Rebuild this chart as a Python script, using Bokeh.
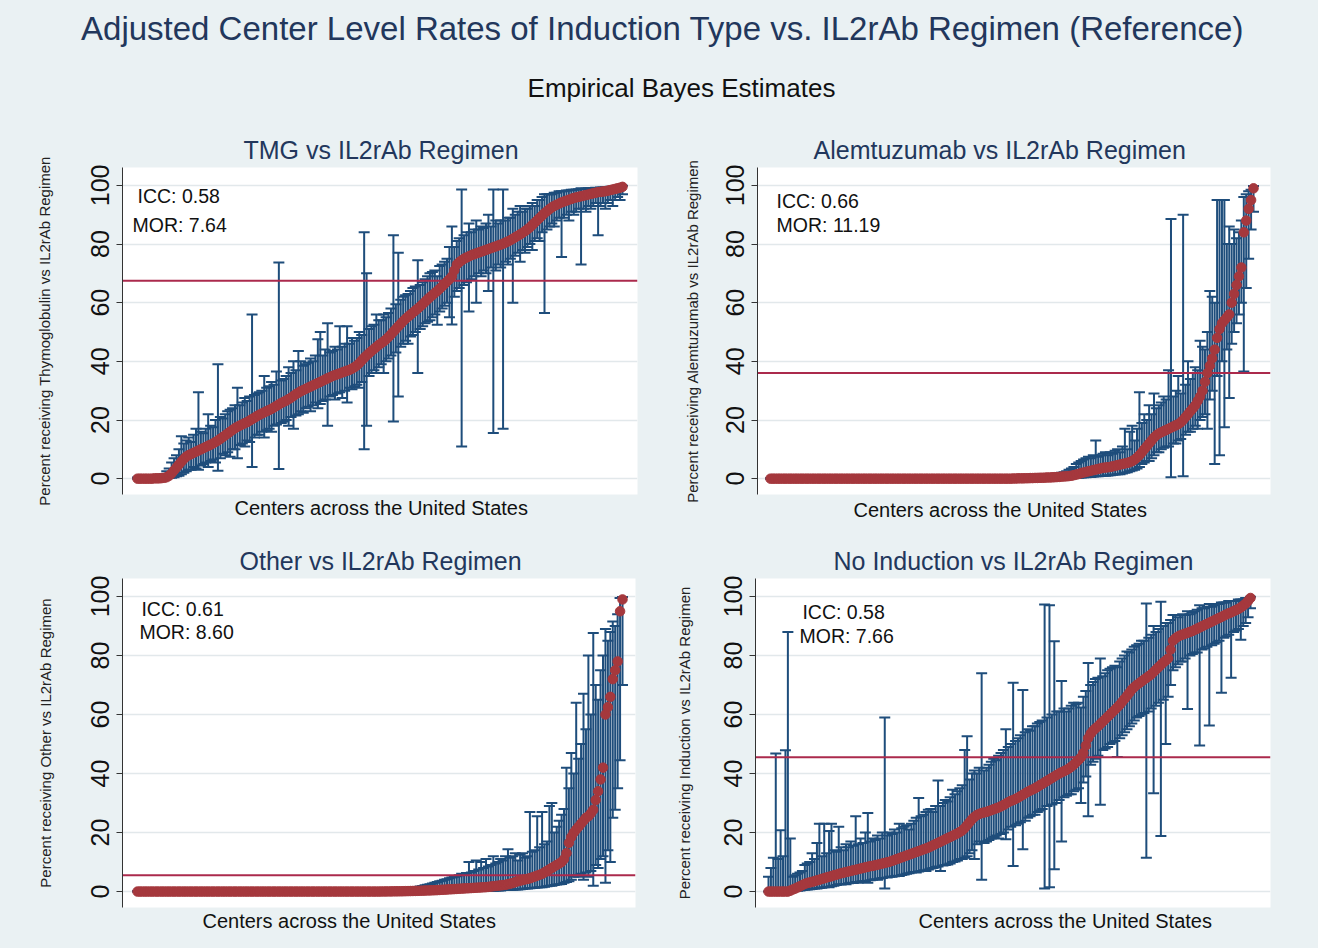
from bokeh.plotting import figure
from bokeh.models import (Whisker, TeeHead, Span, Label, Title, ColumnDataSource,
                          FixedTicker, Range1d)
from bokeh.layouts import column, row
from bokeh.embed import file_html
from bokeh.resources import INLINE

# ---------------- data ----------------
main_title = "Adjusted Center Level Rates of Induction Type vs. IL2rAb Regimen (Reference)"
sub_title = "Empirical Bayes Estimates"
x_title = "Centers across the United States"
tick_vals = [0, 20, 40, 60, 80, 100]

tmg_title = "TMG vs IL2rAb Regimen"
tmg_ylabel = "Percent receiving Thymoglobulin vs IL2rAb Regimen"
tmg_ref = 67.5
tmg_icc = "ICC: 0.58"
tmg_mor = "MOR: 7.64"
tmg_est = [
    0.0, 0.0, 0.0, 0.0, 0.0, 0.0, 0.0, 0.1, 0.1, 0.1,
    0.2, 0.3, 0.5, 1.0, 1.8, 2.8, 3.8, 4.8, 5.8, 6.7,
    7.5, 8.0, 8.4, 8.8, 9.2, 9.6, 10.0, 10.4, 10.8, 11.2,
    11.6, 12.0, 12.5, 13.0, 13.6, 14.2, 14.8, 15.4, 16.0, 16.6,
    17.2, 17.7, 18.1, 18.5, 18.9, 19.3, 19.8, 20.3, 20.8, 21.3,
    21.8, 22.2, 22.6, 23.0, 23.4, 23.8, 24.3, 24.8, 25.3, 25.8,
    26.2, 26.6, 27.1, 27.6, 28.2, 28.8, 29.3, 29.8, 30.2, 30.6,
    31.0, 31.4, 31.8, 32.2, 32.6, 33.0, 33.4, 33.8, 34.2, 34.6,
    35.0, 35.3, 35.6, 35.9, 36.2, 36.5, 36.8, 37.1, 37.5, 38.0,
    38.6, 39.4, 40.3, 41.2, 42.0, 42.8, 43.5, 44.2, 44.9, 45.6,
    46.2, 46.8, 47.5, 48.3, 49.2, 50.1, 51.0, 51.9, 52.8, 53.7,
    54.5, 55.2, 55.9, 56.6, 57.3, 58.0, 58.7, 59.5, 60.3, 61.1,
    61.9, 62.6, 63.3, 64.0, 64.8, 65.6, 66.4, 67.2, 68.0, 69.0,
    71.0, 73.0, 73.8, 74.4, 75.0, 75.4, 75.8, 76.2, 76.5, 76.8,
    77.1, 77.4, 77.7, 78.0, 78.3, 78.6, 78.9, 79.2, 79.5, 79.8,
    80.1, 80.5, 80.9, 81.3, 81.8, 82.3, 82.8, 83.3, 83.8, 84.4,
    85.0, 85.7, 86.5, 87.3, 88.1, 88.9, 89.7, 90.5, 91.2, 91.9,
    92.5, 93.0, 93.4, 93.8, 94.2, 94.5, 94.8, 95.1, 95.4, 95.7,
    95.9, 96.1, 96.3, 96.5, 96.7, 96.9, 97.1, 97.3, 97.5, 97.7,
    97.8, 97.9, 98.0, 98.2, 98.4, 98.6, 98.8, 99.0, 99.2, 99.5]
tmg_lo = [
    0.0, 0.0, 0.0, 0.0, 0.0, 0.0, 0.0, 0.0, 0.0, 0.0,
    0.0, 0.0, 0.1, 0.2, 0.3, 0.5, 0.8, 1.0, 1.5, 2.0,
    2.5, 3.0, 3.0, 4.0, 3.5, 3.0, 4.5, 5.0, 5.5, 4.0,
    6.0, 6.5, 5.5, 2.7, 7.0, 8.5, 8.0, 9.0, 7.5, 10.0,
    10.0, 7.0, 11.5, 12.0, 11.0, 13.0, 12.5, 4.0, 14.0, 15.0,
    15.0, 16.0, 14.0, 16.5, 17.0, 16.0, 18.0, 18.5, 3.3, 19.0,
    19.5, 20.0, 18.0, 21.0, 17.0, 21.5, 22.0, 23.0, 22.5, 24.0,
    24.5, 23.0, 25.0, 26.0, 24.0, 25.5, 26.5, 27.0, 18.0, 28.0,
    28.5, 27.0, 29.0, 29.5, 27.5, 30.0, 26.0, 31.0, 30.5, 31.5,
    32.0, 31.0, 33.0, 10.0, 18.0, 35.0, 36.0, 37.0, 36.0, 38.0,
    39.0, 36.0, 40.0, 41.0, 42.0, 19.5, 43.0, 28.0, 45.0, 46.0,
    47.0, 46.0, 48.5, 49.0, 50.0, 36.0, 51.0, 52.0, 53.0, 53.5,
    54.0, 55.0, 56.0, 52.5, 57.0, 58.0, 59.0, 60.0, 55.0, 52.6,
    62.0, 64.0, 65.0, 11.0, 66.0, 67.0, 57.0, 68.0, 69.0, 60.0,
    70.0, 69.0, 71.0, 70.0, 64.0, 72.0, 15.6, 71.0, 73.0, 72.0,
    17.0, 74.0, 73.0, 75.0, 60.0, 76.0, 77.0, 74.0, 78.0, 77.0,
    79.0, 80.0, 78.0, 81.0, 82.0, 81.0, 84.0, 56.5, 85.0, 86.0,
    87.0, 86.0, 88.0, 89.0, 75.6, 89.0, 90.0, 88.0, 91.0, 90.0,
    91.0, 92.0, 73.0, 92.0, 91.0, 93.0, 92.0, 93.0, 94.0, 83.0,
    93.0, 94.0, 92.0, 94.0, 95.0, 93.0, 95.0, 96.0, 95.0, 97.0]
tmg_hi = [
    0.4, 0.4, 0.5, 0.5, 0.5, 0.6, 0.6, 0.8, 0.8, 0.9,
    1.2, 1.5, 2.5, 3.5, 5.5, 7.0, 8.0, 10.0, 14.5, 12.0,
    13.0, 14.0, 12.5, 15.0, 17.0, 29.5, 16.0, 15.5, 17.0, 22.0,
    18.0, 17.5, 20.0, 39.0, 21.0, 20.5, 22.0, 23.0, 23.5, 24.0,
    25.0, 31.0, 25.0, 26.0, 27.5, 26.5, 28.0, 56.0, 28.5, 29.0,
    29.5, 30.0, 35.0, 31.0, 31.5, 33.0, 32.0, 36.5, 73.7, 33.5,
    34.0, 35.0, 38.0, 36.0, 40.0, 37.0, 43.5, 40.0, 38.5, 39.0,
    39.5, 41.0, 40.0, 42.0, 47.5, 50.0, 42.0, 44.0, 53.0, 43.0,
    43.5, 45.0, 44.0, 52.0, 45.0, 46.0, 52.0, 46.0, 48.0, 47.0,
    48.0, 50.0, 49.0, 84.0, 70.0, 51.0, 52.0, 52.5, 56.0, 54.0,
    54.0, 56.0, 55.0, 56.5, 58.0, 83.0, 59.5, 77.0, 61.0, 62.0,
    62.5, 63.0, 64.0, 65.0, 65.5, 74.5, 66.0, 67.0, 68.0, 69.0,
    70.0, 70.5, 71.0, 69.0, 72.5, 73.0, 74.0, 75.0, 79.0, 86.0,
    79.0, 81.0, 82.0, 98.6, 83.0, 84.0, 87.0, 84.0, 85.0, 88.0,
    85.0, 86.0, 85.5, 87.0, 90.0, 86.0, 98.6, 88.0, 87.0, 88.0,
    98.6, 88.0, 89.0, 89.0, 92.0, 90.0, 91.0, 93.0, 91.0, 92.0,
    92.0, 93.0, 94.0, 93.0, 95.0, 95.0, 96.0, 97.0, 97.0, 97.0,
    97.0, 97.5, 97.5, 98.0, 98.0, 98.0, 98.3, 98.3, 98.5, 98.5,
    98.6, 98.7, 99.0, 98.8, 98.9, 99.0, 99.0, 99.1, 99.2, 99.0,
    99.3, 99.3, 99.4, 99.4, 99.5, 99.5, 99.6, 99.7, 99.8, 99.9]

alem_title = "Alemtuzumab vs IL2rAb Regimen"
alem_ylabel = "Percent receiving Alemtuzumab vs IL2rAb Regimen"
alem_ref = 36.0
alem_icc = "ICC: 0.66"
alem_mor = "MOR: 11.19"
alem_est = [
    0, 0, 0, 0, 0, 0, 0, 0, 0, 0,
    0, 0, 0, 0, 0, 0, 0, 0, 0, 0,
    0, 0, 0, 0, 0, 0, 0, 0, 0, 0,
    0, 0, 0, 0, 0, 0, 0, 0, 0, 0,
    0, 0, 0, 0, 0, 0, 0, 0, 0, 0,
    0, 0, 0, 0, 0, 0, 0, 0, 0, 0,
    0, 0, 0, 0, 0, 0, 0, 0, 0, 0,
    0, 0, 0, 0, 0, 0, 0, 0, 0, 0,
    0, 0, 0, 0, 0, 0, 0, 0, 0, 0,
    0, 0, 0, 0, 0, 0, 0, 0, 0, 0,
    0.05, 0.05, 0.1, 0.1, 0.1, 0.15, 0.15, 0.2, 0.2, 0.25,
    0.25, 0.3, 0.3, 0.35, 0.4, 0.4, 0.45, 0.5, 0.55, 0.6,
    0.7, 0.75, 0.8, 0.9, 1.0, 1.2, 1.4, 1.6, 1.9, 2.1,
    2.3, 2.5, 2.7, 2.9, 3.1, 3.3, 3.5, 3.7, 3.8, 3.9,
    4.0, 4.2, 4.4, 4.6, 4.8, 5.0, 5.2, 5.4, 5.6, 6.0,
    6.5, 7.2, 8.0, 9.0, 10.0, 11.0, 12.0, 13.0, 14.0, 14.8,
    15.4, 15.8, 16.2, 16.6, 17.0, 17.4, 17.8, 18.2, 18.6, 19.2,
    20.0, 21.0, 22.0, 23.0, 24.0, 25.0, 26.5, 28.0, 30.0, 33.0,
    36.0, 38.5, 41.0, 44.0, 48.0, 51.0, 53.0, 54.0, 55.0, 56.0,
    60.0, 63.0, 66.0, 69.0, 72.0, 84.0, 88.0, 92.0, 95.0, 99.0]
alem_lo = [
    0, 0, 0, 0, 0, 0, 0, 0, 0, 0,
    0, 0, 0, 0, 0, 0, 0, 0, 0, 0,
    0, 0, 0, 0, 0, 0, 0, 0, 0, 0,
    0, 0, 0, 0, 0, 0, 0, 0, 0, 0,
    0, 0, 0, 0, 0, 0, 0, 0, 0, 0,
    0, 0, 0, 0, 0, 0, 0, 0, 0, 0,
    0, 0, 0, 0, 0, 0, 0, 0, 0, 0,
    0, 0, 0, 0, 0, 0, 0, 0, 0, 0,
    0, 0, 0, 0, 0, 0, 0, 0, 0, 0,
    0, 0, 0, 0, 0, 0, 0, 0, 0, 0,
    0, 0, 0, 0, 0, 0, 0, 0, 0, 0,
    0, 0, 0, 0, 0, 0, 0, 0, 0, 0,
    0.0, 0.0, 0.1, 0.1, 0.1, 0.2, 0.2, 0.3, 0.4, 0.5,
    0.5, 0.6, 0.6, 0.7, 0.8, 0.8, 0.9, 1.0, 1.0, 1.1,
    1.2, 1.3, 1.4, 1.5, 1.5, 1.8, 2.0, 2.2, 2.5, 2.8,
    3.0, 3.5, 4.0, 5.0, 5.5, 6.0, 6.0, 7.0, 8.0, 9.0,
    9.0, 10.0, 10.5, 11.0, 11.0, 0.5, 12.0, 12.0, 13.0, 13.5,
    0.8, 15.0, 16.0, 16.0, 17.0, 18.0, 17.0, 20.0, 21.0, 22.0,
    17.0, 27.0, 30.0, 5.0, 35.0, 8.0, 40.0, 17.5, 44.0, 27.5,
    46.0, 50.0, 53.0, 56.0, 60.0, 36.5, 65.0, 75.0, 85.0, 91.0]
alem_hi = [
    0.1, 0.1, 0.1, 0.1, 0.1, 0.1, 0.1, 0.1, 0.1, 0.1,
    0.1, 0.1, 0.1, 0.1, 0.1, 0.1, 0.1, 0.1, 0.1, 0.1,
    0.1, 0.1, 0.1, 0.1, 0.1, 0.1, 0.1, 0.1, 0.1, 0.1,
    0.1, 0.1, 0.1, 0.1, 0.1, 0.1, 0.1, 0.1, 0.1, 0.1,
    0.1, 0.1, 0.1, 0.1, 0.1, 0.1, 0.1, 0.1, 0.1, 0.1,
    0.2, 0.2, 0.2, 0.2, 0.2, 0.2, 0.2, 0.2, 0.2, 0.2,
    0.2, 0.2, 0.2, 0.2, 0.2, 0.2, 0.2, 0.2, 0.2, 0.2,
    0.2, 0.2, 0.2, 0.2, 0.2, 0.2, 0.2, 0.2, 0.2, 0.2,
    0.3, 0.3, 0.3, 0.3, 0.3, 0.3, 0.3, 0.3, 0.3, 0.3,
    0.3, 0.3, 0.3, 0.3, 0.3, 0.3, 0.3, 0.3, 0.3, 0.3,
    0.4, 0.4, 0.5, 0.5, 0.6, 0.6, 0.7, 0.7, 0.8, 0.9,
    1.0, 1.0, 1.1, 1.2, 1.3, 1.4, 1.5, 1.6, 1.7, 1.8,
    2.0, 2.2, 2.5, 3.0, 3.5, 4.0, 5.0, 5.5, 6.0, 6.5,
    7.0, 7.5, 7.0, 8.0, 13.0, 7.5, 8.0, 8.5, 9.0, 8.0,
    9.0, 8.5, 9.5, 10.0, 9.0, 11.0, 17.0, 10.0, 16.0, 18.0,
    13.0, 17.0, 29.5, 19.0, 22.0, 20.0, 25.0, 22.0, 29.0, 24.0,
    25.0, 26.0, 28.0, 27.0, 37.0, 88.5, 28.0, 30.0, 35.0, 29.0,
    90.0, 32.0, 40.0, 34.0, 36.0, 38.0, 37.0, 47.0, 45.0, 44.0,
    50.0, 64.0, 62.0, 60.0, 95.0, 95.0, 95.0, 95.0, 80.0, 86.0,
    80.0, 85.0, 82.0, 84.0, 88.0, 96.0, 97.0, 98.0, 98.5, 99.8]

oth_title = "Other vs IL2rAb Regimen"
oth_ylabel = "Percent receiving Other vs IL2rAb Regimen"
oth_ref = 5.5
oth_icc = "ICC: 0.61"
oth_mor = "MOR: 8.60"
oth_est = [
    0, 0, 0, 0, 0, 0, 0, 0, 0, 0,
    0, 0, 0, 0, 0, 0, 0, 0, 0, 0,
    0, 0, 0, 0, 0, 0, 0, 0, 0, 0,
    0, 0, 0, 0, 0, 0, 0, 0, 0, 0,
    0, 0, 0, 0, 0, 0, 0, 0, 0, 0,
    0, 0, 0, 0, 0, 0, 0, 0, 0, 0,
    0, 0, 0, 0, 0, 0, 0, 0, 0, 0,
    0, 0, 0, 0, 0, 0, 0, 0, 0, 0,
    0, 0, 0, 0, 0, 0, 0, 0, 0, 0,
    0, 0, 0, 0, 0, 0, 0, 0, 0, 0,
    0.02, 0.03, 0.04, 0.05, 0.06, 0.07, 0.08, 0.09, 0.1, 0.12,
    0.14, 0.16, 0.18, 0.2, 0.22, 0.25, 0.28, 0.31, 0.34, 0.37,
    0.4, 0.43, 0.46, 0.5, 0.55, 0.6, 0.65, 0.7, 0.75, 0.8,
    0.85, 0.9, 0.95, 1.0, 1.05, 1.1, 1.15, 1.2, 1.25, 1.3,
    1.35, 1.4, 1.45, 1.5, 1.6, 1.7, 1.8, 1.9, 2.0, 2.1,
    2.2, 2.3, 2.5, 2.7, 2.9, 3.2, 3.5, 3.7, 3.9, 4.1,
    4.3, 4.5, 4.8, 5.1, 5.4, 5.7, 6.0, 6.5, 7.0, 7.5,
    8.0, 8.5, 9.0, 9.5, 10.0, 11.0, 13.0, 16.5, 18.5, 20.0,
    21.0, 22.0, 23.0, 24.0, 25.0, 25.5, 26.5, 27.7, 31.0, 34.0,
    38.0, 42.0, 60.0, 62.5, 66.0, 72.0, 75.0, 78.0, 95.0, 99.0]
oth_lo = [
    0, 0, 0, 0, 0, 0, 0, 0, 0, 0,
    0, 0, 0, 0, 0, 0, 0, 0, 0, 0,
    0, 0, 0, 0, 0, 0, 0, 0, 0, 0,
    0, 0, 0, 0, 0, 0, 0, 0, 0, 0,
    0, 0, 0, 0, 0, 0, 0, 0, 0, 0,
    0, 0, 0, 0, 0, 0, 0, 0, 0, 0,
    0, 0, 0, 0, 0, 0, 0, 0, 0, 0,
    0, 0, 0, 0, 0, 0, 0, 0, 0, 0,
    0, 0, 0, 0, 0, 0, 0, 0, 0, 0,
    0, 0, 0, 0, 0, 0, 0, 0, 0, 0,
    0, 0, 0, 0, 0, 0, 0, 0, 0, 0,
    0, 0, 0, 0, 0, 0, 0, 0, 0, 0,
    0, 0, 0, 0, 0, 0, 0, 0, 0, 0,
    0.0, 0.0, 0.1, 0.1, 0.1, 0.1, 0.1, 0.1, 0.2, 0.2,
    0.2, 0.2, 0.2, 0.3, 0.3, 0.3, 0.3, 0.4, 0.4, 0.4,
    0.5, 0.5, 0.5, 0.6, 0.6, 0.7, 0.7, 0.8, 0.9, 1.0,
    1.0, 1.1, 1.2, 1.3, 1.4, 1.5, 1.5, 1.6, 1.8, 2.0,
    2.0, 2.2, 2.4, 2.5, 2.6, 3.0, 3.2, 3.5, 4.0, 5.0,
    5.5, 5.0, 6.0, 4.0, 6.5, 5.0, 7.0, 2.0, 9.0, 8.0,
    11.0, 12.0, 3.0, 14.0, 10.0, 25.0, 27.7, 35.0, 44.5, 70.0]
oth_hi = [
    0.1, 0.1, 0.1, 0.1, 0.1, 0.1, 0.1, 0.1, 0.1, 0.1,
    0.1, 0.1, 0.1, 0.1, 0.1, 0.1, 0.1, 0.1, 0.1, 0.1,
    0.1, 0.1, 0.1, 0.1, 0.1, 0.1, 0.1, 0.1, 0.1, 0.1,
    0.1, 0.1, 0.1, 0.1, 0.1, 0.1, 0.1, 0.1, 0.1, 0.1,
    0.1, 0.1, 0.1, 0.1, 0.1, 0.1, 0.1, 0.1, 0.1, 0.1,
    0.3, 0.3, 0.3, 0.3, 0.3, 0.3, 0.3, 0.3, 0.3, 0.3,
    0.3, 0.3, 0.3, 0.3, 0.3, 0.3, 0.3, 0.3, 0.3, 0.3,
    0.3, 0.3, 0.3, 0.3, 0.3, 0.3, 0.3, 0.3, 0.3, 0.3,
    0.3, 0.3, 0.3, 0.3, 0.3, 0.3, 0.3, 0.3, 0.3, 0.3,
    0.3, 0.3, 0.3, 0.3, 0.3, 0.3, 0.3, 0.3, 0.3, 0.3,
    0.4, 0.4, 0.5, 0.5, 0.6, 0.6, 0.7, 0.7, 0.8, 0.9,
    1.0, 1.1, 1.2, 1.3, 1.4, 1.5, 1.7, 1.9, 2.1, 2.3,
    2.5, 2.7, 3.0, 3.2, 3.5, 3.7, 4.0, 4.2, 4.5, 4.8,
    5.0, 5.2, 5.5, 6.0, 5.8, 6.3, 10.0, 6.5, 7.0, 10.5,
    7.5, 10.0, 8.0, 11.0, 8.5, 9.0, 12.0, 9.5, 10.0, 11.0,
    10.5, 12.0, 14.3, 11.5, 12.0, 13.0, 10.5, 12.5, 13.0, 11.5,
    12.0, 27.0, 13.5, 14.0, 25.5, 15.0, 27.0, 16.0, 17.0, 29.0,
    30.0, 20.0, 22.0, 24.0, 26.0, 28.0, 42.0, 35.0, 47.0, 40.0,
    64.0, 45.0, 50.0, 67.0, 55.0, 80.0, 60.0, 87.6, 70.0, 65.0,
    75.0, 80.0, 89.0, 85.0, 88.0, 91.5, 90.0, 94.0, 99.5, 99.8]

noi_title = "No Induction vs IL2rAb Regimen"
noi_ylabel = "Percent receiving Induction vs IL2rAb Regimen"
noi_ref = 45.5
noi_icc = "ICC: 0.58"
noi_mor = "MOR: 7.66"
noi_est = [
    0.0, 0.0, 0.0, 0.0, 0.0, 0.0, 0.0, 0.0, 0.0, 0.3,
    0.7, 1.0, 1.4, 1.8, 2.2, 2.6, 2.9, 3.1, 3.3, 3.5,
    3.8, 4.0, 4.3, 4.5, 4.8, 5.0, 5.2, 5.5, 5.7, 6.0,
    6.2, 6.4, 6.6, 6.8, 7.0, 7.2, 7.4, 7.6, 7.8, 8.0,
    8.2, 8.4, 8.6, 8.7, 8.9, 9.1, 9.3, 9.5, 9.7, 9.9,
    10.1, 10.4, 10.7, 11.0, 11.3, 11.6, 11.9, 12.2, 12.5, 12.8,
    13.1, 13.4, 13.7, 14.0, 14.3, 14.6, 14.9, 15.3, 15.7, 16.1,
    16.5, 16.9, 17.3, 17.7, 18.1, 18.5, 18.9, 19.3, 19.7, 20.2,
    20.7, 21.5, 22.5, 23.5, 24.5, 25.3, 25.9, 26.3, 26.6, 26.8,
    27.0, 27.3, 27.6, 27.9, 28.2, 28.5, 28.9, 29.3, 29.8, 30.3,
    30.7, 31.0, 31.4, 31.8, 32.3, 32.8, 33.3, 33.8, 34.2, 34.6,
    35.0, 35.5, 36.0, 36.5, 37.0, 37.5, 38.0, 38.5, 39.0, 39.5,
    40.0, 40.4, 40.8, 41.2, 41.7, 42.3, 43.0, 43.8, 44.6, 45.5,
    47.0, 49.5, 52.0, 53.5, 54.5, 55.3, 56.0, 56.8, 57.6, 58.4,
    59.2, 60.0, 60.8, 61.6, 62.4, 63.3, 64.3, 65.3, 66.3, 67.4,
    68.5, 69.3, 70.0, 70.6, 71.2, 71.8, 72.4, 73.0, 73.6, 74.4,
    75.2, 76.0, 76.8, 77.6, 78.3, 79.0, 82.0, 85.0, 85.8, 86.4,
    86.8, 87.1, 87.4, 87.7, 88.0, 88.3, 88.7, 89.1, 89.5, 89.9,
    90.3, 90.7, 91.1, 91.5, 91.9, 92.3, 92.7, 93.1, 93.5, 93.9,
    94.3, 94.6, 95.0, 95.4, 95.8, 96.3, 96.9, 97.6, 98.5, 99.5]
noi_lo = [
    0.0, 0.0, 0.0, 0.0, 0.0, 0.0, 0.0, 0.0, 0.0, 0.0,
    0.1, 0.2, 0.3, 0.4, 0.5, 0.6, 0.7, 0.8, 0.9, 1.0,
    1.0, 1.2, 1.3, 1.5, 1.6, 1.5, 1.8, 2.0, 2.2, 2.5,
    2.4, 2.6, 2.5, 2.8, 3.0, 2.9, 3.2, 3.0, 3.4, 3.5,
    3.6, 3.0, 3.8, 4.0, 4.2, 4.0, 4.4, 4.6, 1.0, 4.8,
    5.0, 5.0, 5.2, 5.4, 5.3, 5.6, 5.8, 6.0, 6.2, 6.5,
    6.6, 6.5, 6.8, 7.0, 7.2, 7.0, 7.5, 7.8, 8.0, 8.3,
    8.5, 7.0, 8.8, 9.0, 9.2, 9.5, 10.0, 10.2, 10.5, 11.0,
    11.0, 11.5, 12.0, 13.0, 14.0, 11.0, 16.0, 17.0, 4.0, 16.5,
    17.0, 17.5, 18.0, 18.5, 19.0, 18.0, 19.5, 20.0, 17.7, 21.0,
    22.0, 8.7, 22.5, 23.0, 23.5, 14.3, 24.0, 25.0, 25.5, 26.0,
    26.0, 27.0, 27.5, 28.0, 1.0, 29.0, 1.5, 29.5, 7.6, 30.0,
    31.0, 17.0, 32.0, 32.5, 33.0, 33.0, 34.0, 34.5, 35.0, 30.0,
    37.0, 39.0, 25.5, 43.0, 44.0, 45.0, 46.0, 29.4, 48.0, 48.5,
    49.0, 50.0, 50.5, 51.0, 45.6, 52.0, 53.0, 54.0, 55.0, 56.0,
    57.0, 58.0, 59.0, 59.5, 60.0, 60.5, 11.5, 61.0, 62.0, 33.3,
    63.0, 64.0, 18.8, 65.0, 50.0, 66.0, 70.0, 75.0, 76.0, 77.0,
    78.0, 78.0, 79.0, 61.9, 80.0, 80.5, 81.0, 81.0, 49.5, 82.0,
    82.5, 83.0, 56.3, 83.5, 84.0, 84.5, 85.0, 67.4, 86.0, 86.5,
    87.0, 72.5, 88.0, 88.5, 89.0, 85.3, 90.0, 91.0, 93.0, 96.0]
noi_hi = [
    5.0, 8.0, 11.5, 46.8, 11.0, 20.8, 12.0, 47.9, 88.0, 18.0,
    5.0, 5.5, 6.0, 6.5, 7.0, 9.0, 9.5, 10.0, 13.0, 11.0,
    16.5, 23.0, 12.0, 23.0, 13.0, 20.5, 23.0, 14.0, 13.5, 22.0,
    15.0, 14.0, 16.0, 15.0, 17.0, 15.5, 25.5, 16.0, 18.0, 16.5,
    20.0, 26.6, 17.0, 18.0, 17.5, 19.0, 18.0, 20.0, 59.0, 19.0,
    20.0, 19.5, 21.0, 20.0, 23.0, 21.5, 22.0, 22.5, 21.0, 23.0,
    24.0, 25.0, 31.7, 25.5, 26.0, 27.0, 27.7, 28.0, 27.0, 29.0,
    37.6, 29.0, 30.0, 31.0, 30.5, 32.0, 34.5, 33.0, 34.0, 35.0,
    36.0, 48.0, 52.6, 38.0, 40.0, 41.0, 40.0, 42.0, 74.0, 41.0,
    42.0, 43.0, 44.0, 45.0, 44.5, 46.0, 47.0, 48.0, 55.0, 49.0,
    50.0, 70.8, 51.0, 52.0, 53.0, 68.3, 54.0, 55.0, 54.5, 56.0,
    56.0, 57.0, 57.5, 58.0, 97.3, 59.0, 97.0, 60.0, 84.8, 61.0,
    61.0, 71.4, 62.0, 61.0, 62.0, 63.0, 64.0, 63.5, 64.0, 62.4,
    66.0, 68.0, 77.5, 70.0, 71.0, 72.0, 72.5, 79.0, 73.0, 74.0,
    75.0, 75.5, 76.0, 76.5, 76.0, 78.0, 79.0, 80.0, 81.4, 81.0,
    82.0, 83.0, 83.5, 84.0, 85.0, 85.0, 97.6, 86.0, 87.0, 90.0,
    88.0, 89.0, 98.2, 90.0, 91.0, 91.0, 92.0, 93.7, 93.7, 93.0,
    93.7, 94.0, 93.7, 95.0, 94.0, 94.5, 95.0, 95.5, 97.0, 96.0,
    96.0, 96.5, 97.5, 96.5, 97.0, 97.5, 97.5, 98.0, 98.0, 98.0,
    98.5, 98.5, 98.5, 98.5, 99.0, 99.0, 99.0, 99.5, 99.5, 99.9]

# ---------------- style ----------------
BG = "#eaf1f3"
NAVY_T = "#22375c"
BAR = "#1e4d7b"
RED = "#a5383d"
LINE = "#ab2a4c"
GRID = "#e2e8eb"
FONT = "Liberation Sans"
W = 659


def panel(title, ylabel, est, lo, hi, ref, icc, mor, height, b_left, b_right,
          b_top, b_bottom, pad_l, pad_r, t_off, t_stand, xt_off, xt_stand,
          lab_stand, icc_xy, mor_xy):
    n = len(est)
    centers = list(range(1, n + 1))
    src = ColumnDataSource(dict(x=centers, est=est, lo=lo, hi=hi))
    p = figure(width=W, height=height, output_backend="svg", toolbar_location=None,
               x_range=Range1d(1 - pad_l, n + pad_r), y_range=Range1d(-5.4, 106.1),
               x_axis_location=None, min_border_left=b_left, min_border_right=b_right,
               min_border_top=b_top, min_border_bottom=b_bottom,
               background_fill_color="white", border_fill_color=BG,
               outline_line_color=None)
    p.title.text = title
    p.title.align = "left"
    p.title.text_font = FONT
    p.title.text_font_size = "25px"
    p.title.text_font_style = "normal"
    p.title.text_color = NAVY_T
    p.title.offset = t_off
    p.title.standoff = t_stand

    p.add_layout(Title(text=x_title, align="left", text_font=FONT,
                       text_font_size="20px", text_font_style="normal",
                       text_color="#111111", offset=xt_off, standoff=xt_stand), "below")

    ax = p.yaxis[0]
    ax.ticker = FixedTicker(ticks=tick_vals)
    ax.major_label_orientation = "vertical"
    ax.major_label_text_font = FONT
    ax.major_label_text_font_size = "25px"
    ax.major_label_text_color = "#111111"
    ax.major_label_standoff = 7
    ax.major_tick_out = 6
    ax.major_tick_in = 0
    ax.minor_tick_line_color = None
    ax.axis_line_color = "#333333"
    ax.major_tick_line_color = "#333333"
    ax.axis_label = ylabel
    ax.axis_label_text_font = FONT
    ax.axis_label_text_font_size = "15px"
    ax.axis_label_text_font_style = "normal"
    ax.axis_label_text_color = "#222222"
    ax.axis_label_standoff = lab_stand

    p.ygrid.grid_line_color = GRID
    p.ygrid.grid_line_width = 1.5
    p.xgrid.grid_line_color = None

    wh = Whisker(source=src, base="x", lower="lo", upper="hi",
                 line_color=BAR, line_width=2, level="underlay",
                 upper_head=TeeHead(size=11, line_color=BAR, line_width=2),
                 lower_head=TeeHead(size=11, line_color=BAR, line_width=2))
    p.add_layout(wh)
    p.add_layout(Span(location=ref, dimension="width", line_color=LINE,
                      line_width=2, level="underlay"))
    p.scatter("x", "est", source=src, size=9.5, fill_color=RED, line_color=RED)

    for txt, (x, y) in ((icc, icc_xy), (mor, mor_xy)):
        p.add_layout(Label(x=x, y=y, text=txt, text_font=FONT, text_font_size="19.5px",
                           text_color="#111111", text_baseline="middle"))
    return p


header = figure(width=2 * W, height=130, output_backend="svg", toolbar_location=None,
                x_range=Range1d(0, 2 * W), y_range=Range1d(0, 130),
                x_axis_location=None, y_axis_location=None, min_border=0,
                background_fill_color=BG, border_fill_color=BG, outline_line_color=None)
header.grid.visible = False
header.add_layout(Label(x=662, y=102, text=main_title, text_align="center",
                        text_baseline="middle", text_font=FONT, text_font_size="33px",
                        text_color=NAVY_T))
header.add_layout(Label(x=681, y=43, text=sub_title, text_align="center",
                        text_baseline="middle", text_font=FONT, text_font_size="26px",
                        text_color="#111111"))

p1 = panel(tmg_title, tmg_ylabel, tmg_est, tmg_lo, tmg_hi, tmg_ref, tmg_icc, tmg_mor,
           410, 122, 22, 33, 46, 6.16, 6.16, 121, 7, 112, 1, 36, (1.0, 96.3), (-1.05, 86.5))
p2 = panel(alem_title, alem_ylabel, alem_est, alem_lo, alem_hi, alem_ref, alem_icc, alem_mor,
           410, 98, 48, 33, 45, 5.36, 7.0, 56, 7, 96, 4, 23, (3.5, 94.6), (3.5, 86.6))
p3 = panel(oth_title, oth_ylabel, oth_est, oth_lo, oth_hi, oth_ref, oth_icc, oth_mor,
           408, 122, 24, 37, 41, 6.16, 5.33, 117, 8, 80, 1, 35, (2.6, 95.6), (1.8, 87.9))
p4 = panel(noi_title, noi_ylabel, noi_est, noi_lo, noi_hi, noi_ref, noi_icc, noi_mor,
           408, 96, 48, 35, 41, 5.37, 8.26, 78, 8, 163, 0, 29, (15.0, 94.6), (13.8, 86.5))

layout = column(header, row(p1, p2), row(p3, p4))
layout.styles = {"background-color": BG}

open("out.html", "w").write(file_html(layout, INLINE))
